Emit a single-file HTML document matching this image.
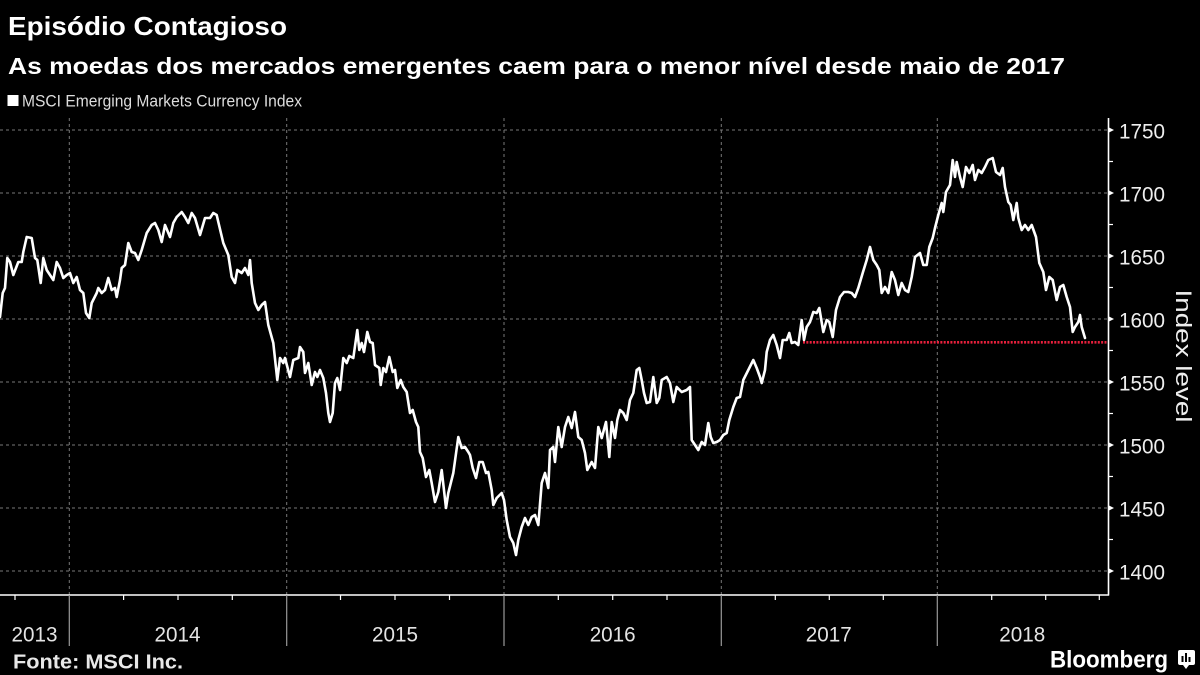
<!DOCTYPE html>
<html><head><meta charset="utf-8"><style>
html,body{margin:0;padding:0;background:#000;}
svg{display:block;}
text{font-family:"Liberation Sans",sans-serif;}
</style></head><body>
<svg width="1200" height="675" viewBox="0 0 1200 675" xmlns="http://www.w3.org/2000/svg">
<rect width="1200" height="675" fill="#000"/>
<!-- titles -->
<text x="8" y="35" font-size="26" font-weight="bold" fill="#fff" textLength="279" lengthAdjust="spacingAndGlyphs">Episódio Contagioso</text>
<text x="8" y="74" font-size="23" font-weight="bold" fill="#fff" textLength="1057" lengthAdjust="spacingAndGlyphs">As moedas dos mercados emergentes caem para o menor nível desde maio de 2017</text>
<rect x="7.5" y="95" width="11" height="11" fill="#fff"/>
<text x="22" y="106.5" font-size="17" fill="#ddd" textLength="280" lengthAdjust="spacingAndGlyphs">MSCI Emerging Markets Currency Index</text>
<!-- horizontal grid -->
<g stroke="#777" stroke-width="1" stroke-dasharray="3,3">
<line x1="0" y1="130" x2="1108" y2="130"/>
<line x1="0" y1="193" x2="1108" y2="193"/>
<line x1="0" y1="256" x2="1108" y2="256"/>
<line x1="0" y1="319" x2="1108" y2="319"/>
<line x1="0" y1="382" x2="1108" y2="382"/>
<line x1="0" y1="445" x2="1108" y2="445"/>
<line x1="0" y1="508" x2="1108" y2="508"/>
<line x1="0" y1="571" x2="1108" y2="571"/>
<line x1="69.3" y1="118" x2="69.3" y2="595"/>
<line x1="286.7" y1="118" x2="286.7" y2="595"/>
<line x1="504" y1="118" x2="504" y2="595"/>
<line x1="721.3" y1="118" x2="721.3" y2="595"/>
<line x1="937.3" y1="118" x2="937.3" y2="595"/>
</g>
<!-- red dotted reference -->
<line x1="803" y1="342.3" x2="1108" y2="342.3" stroke="#e8203c" stroke-width="2.6" stroke-dasharray="2,1.35"/>
<!-- series -->
<polyline fill="none" stroke="#fff" stroke-width="2.6" stroke-linejoin="round" stroke-linecap="round" points="0,317 2.7,293 5,288 7.3,258 10,262 13.3,275 18.3,262 21.7,262 23.3,252 26.7,237 31.7,238 35,258 37.3,260 40.7,283 43.3,258 46.7,270 53.3,280 56.7,262 60,268 63.3,278 66.7,275 70,273 73.3,283 76.7,277 80,290 83.3,293 86,313 89.3,318 91.7,303 96.7,293 98.3,288 101.7,293 105,290 108.3,278 111.7,290 115,288 116.7,297 120,280 121.7,268 125,265 128.3,243 131.7,252 135,253 138.3,260 141.7,250 146.7,233 151.7,225 155,223 158.3,230 161.7,242 165,225 170,237 173.3,223 176.7,217 181.7,212 185,217 188.3,223 191.7,213 195,218 200,235 205,218 210,218 213.3,213 216.7,215 218.3,222 223.3,243 228.3,255 231.7,277 235,283 237.3,270 241.7,273 245,268 248.3,275 250,260 251.7,283 255,303 258.3,310 261.7,305 265,302 268.3,325 273.3,343 277.3,380 280,358 283.3,363 285,358 290,377 293.3,360 298.3,358 300,347 303.3,352 305,373 308.3,363 311.7,385 315,372 317.3,377 320,370 323.3,378 326,393 328.3,413 330,422 332.7,413 335,383 337.3,378 340,390 343.3,358 346.7,363 349.3,356 353.3,358 357.3,330 359.3,350 361.7,343 364,352 367.3,332 370,342 372.7,343 375,365 379.3,368 380.7,385 383.3,368 386,372 389.3,357 392.7,372 395,370 397.3,388 400.7,380 403.3,387 406.7,392 410,413 412.7,410 416,422 418.3,427 420,452 422.7,458 426,477 429.3,470 431.7,483 435,502 438.3,492 441.7,470 446,508 448.3,493 453.3,473 458.3,437 461.7,448 465,447 468.3,452 470,455 472.7,468 476,478 479.3,462 482.7,462 486,473 488.3,472 491.7,490 493.3,505 496.7,498 501.7,493 504,500 506.7,520 510,537 513.3,543 516,555 518.3,540 521.7,527 525,518 528.3,525 531.7,517 535,515 538.3,525 541.7,483 545,473 548.3,488 550,450 553.3,447 555,462 558.3,427 561.7,447 565,427 568.3,417 571.7,428 575,412 578.3,437 581.7,440 585,453 587.3,470 591.7,462 595,468 598.3,427 601.7,438 606,422 609.3,457 611.7,422 615,438 617.3,420 620,410 623.3,413 626.7,420 630,400 633.3,393 636.7,370 639.3,368 641.7,380 644,393 646.7,403 650,402 653.3,377 656.7,403 659.3,398 661.7,380 666.7,377 670,383 673.3,402 676.7,387 681.7,392 686.7,390 690,387 691.7,440 695,445 698.3,450 701.7,442 705,445 708.3,423 710.7,437 713.3,443 716.7,442 720,440 723.3,435 726.7,433 729.3,420 733.3,407 736.7,398 740,397 743.3,380 748.3,370 753.3,360 756.7,368 760,377 761.7,383 765,370 766.7,352 770,340 773.3,335 776.7,345 780,358 782.7,340 786.7,340 789.3,333 791.7,343 795,342 798.3,345 801.7,320 804,340 806.7,327 810,322 813.3,312 816.7,313 819.3,308 823.3,332 826.7,320 829.3,322 832.7,337 836,310 840,297 844,292 848.3,292 851.7,293 855,297 858.3,288 862.7,273 866.7,260 870,247 873.3,260 876.7,265 879.3,270 881.7,293 885,287 888.3,293 891.7,272 895,280 898.3,295 901.7,283 905,290 908.3,292 911.7,277 915,257 920,253 923.3,265 926.7,265 929.3,247 932.7,238 935,228 938.3,215 941.7,203 943.3,212 946,192 950,185 952.7,160 955,177 956.7,162 960,177 962.7,187 966,167 969.3,173 972.7,165 975,180 978.3,170 981.7,173 985,167 988.3,160 992.7,158 996,172 1000,175 1002.7,168 1005,187 1008.3,202 1010.7,205 1013.3,220 1016.7,203 1018.3,218 1021.7,230 1025,225 1028.3,230 1031.7,225 1036,237 1039.3,263 1043.3,272 1046,290 1049.3,277 1052.7,280 1056.7,300 1060,287 1063.3,285 1066.7,297 1070,307 1072.7,332 1075,327 1078.3,322 1080,315 1081.7,327 1085,338"/>
<!-- axes -->
<line x1="1108.5" y1="118" x2="1108.5" y2="595.5" stroke="#fff" stroke-width="1.6"/>
<line x1="0" y1="595" x2="1109" y2="595" stroke="#fff" stroke-width="1.6"/>
<!-- y major markers -->
<g fill="#fff">
<polygon points="1108,127 1114,130 1108,133"/>
<polygon points="1108,190 1114,193 1108,196"/>
<polygon points="1108,253 1114,256 1108,259"/>
<polygon points="1108,316 1114,319 1108,322"/>
<polygon points="1108,379 1114,382 1108,385"/>
<polygon points="1108,442 1114,445 1108,448"/>
<polygon points="1108,505 1114,508 1108,511"/>
<polygon points="1108,568 1114,571 1108,574"/>
</g>
<g stroke="#fff" stroke-width="1.2">
<line x1="1108" y1="161.5" x2="1113" y2="161.5"/>
<line x1="1108" y1="224.5" x2="1113" y2="224.5"/>
<line x1="1108" y1="287.5" x2="1113" y2="287.5"/>
<line x1="1108" y1="350.5" x2="1113" y2="350.5"/>
<line x1="1108" y1="413.5" x2="1113" y2="413.5"/>
<line x1="1108" y1="476.5" x2="1113" y2="476.5"/>
<line x1="1108" y1="539.5" x2="1113" y2="539.5"/>
</g>
<g font-size="21" fill="#eee">
<text x="1119" y="138.3" textLength="46" lengthAdjust="spacingAndGlyphs">1750</text>
<text x="1119" y="201.3" textLength="46" lengthAdjust="spacingAndGlyphs">1700</text>
<text x="1119" y="264.3" textLength="46" lengthAdjust="spacingAndGlyphs">1650</text>
<text x="1119" y="327.3" textLength="46" lengthAdjust="spacingAndGlyphs">1600</text>
<text x="1119" y="390.3" textLength="46" lengthAdjust="spacingAndGlyphs">1550</text>
<text x="1119" y="453.3" textLength="46" lengthAdjust="spacingAndGlyphs">1500</text>
<text x="1119" y="516.3" textLength="46" lengthAdjust="spacingAndGlyphs">1450</text>
<text x="1119" y="579.3" textLength="46" lengthAdjust="spacingAndGlyphs">1400</text>
</g>
<text transform="translate(1176,356) rotate(90)" text-anchor="middle" font-size="22" fill="#eee" textLength="133" lengthAdjust="spacingAndGlyphs">Index level</text>
<!-- x ticks -->
<g stroke="#fff" stroke-width="1.2">
<line x1="15" y1="595" x2="15" y2="600"/>
<line x1="123.6" y1="595" x2="123.6" y2="600"/>
<line x1="178" y1="595" x2="178" y2="600"/>
<line x1="232.3" y1="595" x2="232.3" y2="600"/>
<line x1="340.5" y1="595" x2="340.5" y2="600"/>
<line x1="395" y1="595" x2="395" y2="600"/>
<line x1="449.5" y1="595" x2="449.5" y2="600"/>
<line x1="558.3" y1="595" x2="558.3" y2="600"/>
<line x1="612.7" y1="595" x2="612.7" y2="600"/>
<line x1="667" y1="595" x2="667" y2="600"/>
<line x1="775.3" y1="595" x2="775.3" y2="600"/>
<line x1="829.3" y1="595" x2="829.3" y2="600"/>
<line x1="883.3" y1="595" x2="883.3" y2="600"/>
<line x1="991.7" y1="595" x2="991.7" y2="600"/>
<line x1="1045.7" y1="595" x2="1045.7" y2="600"/>
<line x1="1099.3" y1="595" x2="1099.3" y2="600"/>
</g>
<g stroke="#999" stroke-width="1.2">
<line x1="69.3" y1="595" x2="69.3" y2="646"/>
<line x1="286.7" y1="595" x2="286.7" y2="646"/>
<line x1="504" y1="595" x2="504" y2="646"/>
<line x1="721.3" y1="595" x2="721.3" y2="646"/>
<line x1="937.3" y1="595" x2="937.3" y2="646"/>
</g>
<g font-size="21" fill="#e4e4e4" text-anchor="middle">
<text x="34.5" y="641.5" textLength="46" lengthAdjust="spacingAndGlyphs">2013</text>
<text x="177.5" y="641.5" textLength="46" lengthAdjust="spacingAndGlyphs">2014</text>
<text x="395" y="641.5" textLength="46" lengthAdjust="spacingAndGlyphs">2015</text>
<text x="612.7" y="641.5" textLength="46" lengthAdjust="spacingAndGlyphs">2016</text>
<text x="828.8" y="641.5" textLength="46" lengthAdjust="spacingAndGlyphs">2017</text>
<text x="1022.3" y="641.5" textLength="46" lengthAdjust="spacingAndGlyphs">2018</text>
</g>
<!-- footer -->
<text x="13" y="668.3" font-size="20" font-weight="bold" fill="#e8e8e8" textLength="170" lengthAdjust="spacingAndGlyphs">Fonte: MSCI Inc.</text>
<text x="1050" y="667.3" font-size="24" font-weight="bold" fill="#fff" textLength="118" lengthAdjust="spacingAndGlyphs">Bloomberg</text>
<rect x="1178" y="650" width="17" height="15" rx="2" fill="#fff"/>
<polygon points="1183,665 1189,665 1186,669" fill="#fff"/>
<g fill="#000">
<rect x="1181.5" y="656" width="2" height="6"/>
<rect x="1185" y="653" width="2" height="9"/>
<rect x="1188.5" y="657" width="2" height="5"/>
</g>
</svg>
</body></html>
